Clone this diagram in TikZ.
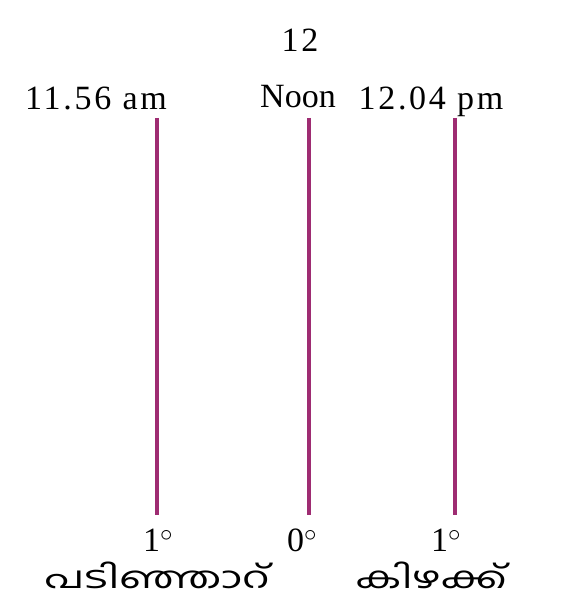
\documentclass[tikz,border=0pt]{standalone}
\usepackage{fontspec}
\usepackage{graphicx}
\setmainfont{Liberation Serif}
\newfontfamily\malfont[Script=Malayalam]{Hind Kochi}
\newfontfamily\widefont[LetterSpace=8]{Liberation Serif}
\usetikzlibrary{positioning}
\definecolor{meridian}{HTML}{9E2C72}

\begin{document}
\begin{tikzpicture}[
    x=1pt, y=-1pt,
    lbl/.style={anchor=base, inner sep=0pt, font=\fontsize{34}{38}\selectfont},
    num/.style={lbl, font=\widefont\fontsize{34}{38}\selectfont},
    mal/.style={anchor=base, inner sep=0pt, font=\malfont\fontsize{30}{34}\selectfont},
    line/.style={draw=meridian, line width=3.8pt},
  ]
  \useasboundingbox (0,0) rectangle (563,607);

  %% Meridian end points
  \coordinate (wtop) at (157,118);
  \coordinate (wbot) at (157,515);
  \coordinate (ntop) at (309,118);
  \coordinate (nbot) at (309,515);
  \coordinate (etop) at (455,118);
  \coordinate (ebot) at (455,515);

  %% Meridians
  \draw[line] (wtop) -- (wbot);
  \draw[line] (ntop) -- (nbot);
  \draw[line] (etop) -- (ebot);

  %% Times
  \node[num] (twest) at (96,110) {11.56 am};
  \node[lbl] (tnoon) at (298,107) {Noon};
  \node[num] (ttwelve) at (300,52) {12};
  \node[num] (teast) at (431,110) {12.04 pm};

  %% Degrees
  \node[num] (dwest) at (158,551) {1$^\circ$};
  \node[num] (dnoon) at (302,551) {0$^\circ$};
  \node[num] (deast) at (446,551) {1$^\circ$};

  %% Directions
  \node[mal] (west) at (157,588) {\scalebox{1.45}[1]{പടിഞ്ഞാറ്}};
  \node[mal] (east) at (431,588) {\scalebox{1.4}[1]{കിഴക്ക്}};
\end{tikzpicture}
\end{document}
